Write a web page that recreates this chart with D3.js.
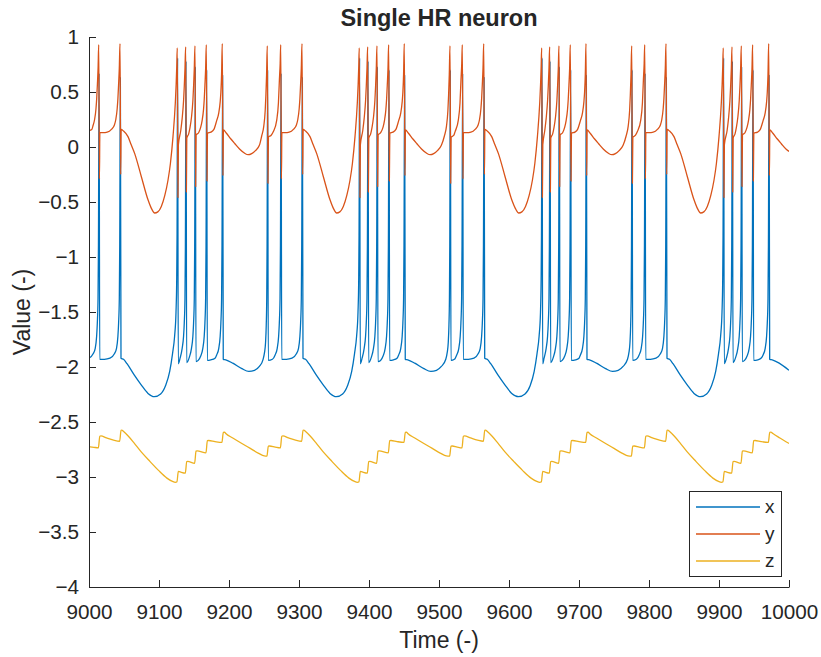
<!DOCTYPE html>
<html>
<head>
<meta charset="utf-8">
<script src="https://cdn.jsdelivr.net/npm/d3@7"></script>
<style>
  html, body { margin: 0; padding: 0; background: #fff; }
  svg text { font-family: "Liberation Sans", Arial, Helvetica, sans-serif; fill: #262626; }
</style>
</head>
<body>
<svg id="chart" width="821" height="657"></svg>
<script>
// ---------------- DATA ----------------
const seriesNames = ["x", "y", "z"];
const xTickValues = [9000, 9100, 9200, 9300, 9400, 9500, 9600, 9700, 9800, 9900, 10000];
const yTickValues = [-4, -3.5, -3, -2.5, -2, -1.5, -1, -0.5, 0, 0.5, 1];

// x variable: [time, value]
const xData = [
[9000,-1.92],[9005.9,-1.88],[9008.9,-1.83],[9010.9,-1.72],[9011.9,-1.6],[9012.9,-1.38],[9013.5,-0.9],[9014.4,0.67],[9015.3,-1.93],
[9022,-1.93],[9030,-1.92],[9036.3,-1.88],[9039.3,-1.83],[9041.3,-1.72],[9042.3,-1.6],[9043.3,-1.38],[9043.9,-0.9],[9044.8,0.63],[9045.7,-1.92],
[9049.3,-1.93],[9054.3,-1.97],[9064.3,-2.07],[9074.3,-2.16],[9084.3,-2.24],[9093.3,-2.27],[9102.3,-2.245],[9109.3,-2.17],[9115.3,-2.04],[9119.3,-1.88],[9122.3,-1.72],[9124.3,-1.5],[9125.3,-1.2],[9125.8,-0.8],[9126.6,0.81],[9127.5,-1.97],
[9130.1,-1.92],[9133.1,-1.83],[9135.1,-1.72],[9136.1,-1.6],[9137.1,-1.38],[9137.7,-0.9],[9138.6,0.78],[9139.5,-1.96],
[9143.4,-1.91],[9146.4,-1.83],[9148.4,-1.72],[9149.4,-1.6],[9150.4,-1.38],[9151,-0.9],[9151.9,0.73],[9152.8,-1.95],
[9156,-1.94],[9159.6,-1.9],[9162.6,-1.83],[9164.6,-1.72],[9165.6,-1.6],[9166.6,-1.38],[9167.2,-0.9],[9168.1,0.70],[9169,-1.94],
[9174,-1.935],[9180,-1.92],[9182.4,-1.89],[9185.4,-1.83],[9187.4,-1.72],[9188.4,-1.6],[9189.4,-1.38],[9190,-0.9],[9190.9,0.65],[9191.8,-1.93],
[9195.4,-1.935],[9205.4,-1.965],[9218.4,-2.015],[9228.4,-2.04],[9236.4,-2.03],[9243.4,-1.995],[9248.7,-1.93],[9250.7,-1.87],[9252.2,-1.78],[9253.2,-1.62],[9253.9,-1.38],[9254.4,-0.9],[9255.2,0.70],[9256.1,-1.94],
[9262,-1.93],[9265.9,-1.89],[9268.9,-1.83],[9270.9,-1.72],[9271.9,-1.6],[9272.9,-1.38],[9273.5,-0.9],[9274.4,0.67],[9275.3,-1.93],
[9282,-1.93],[9290,-1.92],[9296.3,-1.88],[9299.3,-1.83],[9301.3,-1.72],[9302.3,-1.6],[9303.3,-1.38],[9303.9,-0.9],[9304.8,0.63],[9305.7,-1.92],
[9309.3,-1.93],[9314.3,-1.97],[9324.3,-2.07],[9334.3,-2.16],[9344.3,-2.24],[9353.3,-2.27],[9362.3,-2.245],[9369.3,-2.17],[9375.3,-2.04],[9379.3,-1.88],[9382.3,-1.72],[9384.3,-1.5],[9385.3,-1.2],[9385.8,-0.8],[9386.6,0.81],[9387.5,-1.97],
[9390.1,-1.92],[9393.1,-1.83],[9395.1,-1.72],[9396.1,-1.6],[9397.1,-1.38],[9397.7,-0.9],[9398.6,0.78],[9399.5,-1.96],
[9403.4,-1.91],[9406.4,-1.83],[9408.4,-1.72],[9409.4,-1.6],[9410.4,-1.38],[9411,-0.9],[9411.9,0.73],[9412.8,-1.95],
[9416.5,-1.94],[9420.1,-1.9],[9423.1,-1.83],[9425.1,-1.72],[9426.1,-1.6],[9427.1,-1.38],[9427.7,-0.9],[9428.6,0.70],[9429.5,-1.94],
[9435,-1.935],[9440,-1.92],[9442.4,-1.89],[9445.4,-1.83],[9447.4,-1.72],[9448.4,-1.6],[9449.4,-1.38],[9450,-0.9],[9450.9,0.65],[9451.8,-1.93],
[9455.4,-1.935],[9465.4,-1.965],[9478.4,-2.015],[9488.4,-2.04],[9496.4,-2.03],[9503.4,-1.995],[9509.7,-1.93],[9511.7,-1.87],[9513.2,-1.78],[9514.2,-1.62],[9514.9,-1.38],[9515.4,-0.9],[9516.2,0.70],[9517.1,-1.94],
[9522,-1.93],[9525.3,-1.89],[9528.3,-1.83],[9530.3,-1.72],[9531.3,-1.6],[9532.3,-1.38],[9532.9,-0.9],[9533.8,0.67],[9534.7,-1.93],
[9542,-1.93],[9550,-1.92],[9555.9,-1.88],[9558.9,-1.83],[9560.9,-1.72],[9561.9,-1.6],[9562.9,-1.38],[9563.5,-0.9],[9564.4,0.63],[9565.3,-1.92],
[9568.9,-1.93],[9573.9,-1.97],[9583.9,-2.07],[9593.9,-2.16],[9603.9,-2.24],[9613.4,-2.27],[9622.9,-2.245],[9630.2,-2.17],[9636,-2.04],[9640,-1.88],[9643,-1.72],[9645,-1.5],[9645.9,-1.2],[9646.4,-0.8],[9647.2,0.81],[9648.1,-1.97],
[9650.1,-1.92],[9653.1,-1.83],[9655.1,-1.72],[9656.1,-1.6],[9657.1,-1.38],[9657.7,-0.9],[9658.6,0.78],[9659.5,-1.96],
[9663.4,-1.91],[9666.4,-1.83],[9668.4,-1.72],[9669.4,-1.6],[9670.4,-1.38],[9671,-0.9],[9671.9,0.73],[9672.8,-1.95],
[9676,-1.94],[9679.6,-1.9],[9682.6,-1.83],[9684.6,-1.72],[9685.6,-1.6],[9686.6,-1.38],[9687.2,-0.9],[9688.1,0.70],[9689,-1.94],
[9695,-1.935],[9700,-1.92],[9702,-1.89],[9705,-1.83],[9707,-1.72],[9708,-1.6],[9709,-1.38],[9709.6,-0.9],[9710.5,0.65],[9711.4,-1.93],
[9715,-1.935],[9725,-1.965],[9738,-2.015],[9748,-2.04],[9756,-2.03],[9763,-1.995],[9769.3,-1.93],[9771.3,-1.87],[9772.8,-1.78],[9773.8,-1.62],[9774.5,-1.38],[9775,-0.9],[9775.8,0.70],[9776.7,-1.94],
[9782,-1.93],[9785.9,-1.89],[9788.9,-1.83],[9790.9,-1.72],[9791.9,-1.6],[9792.9,-1.38],[9793.5,-0.9],[9794.4,0.67],[9795.3,-1.93],
[9802,-1.93],[9810,-1.92],[9816.3,-1.88],[9819.3,-1.83],[9821.3,-1.72],[9822.3,-1.6],[9823.3,-1.38],[9823.9,-0.9],[9824.8,0.63],[9825.7,-1.92],
[9829.3,-1.93],[9834.3,-1.97],[9844.3,-2.07],[9854.3,-2.16],[9864.3,-2.24],[9873.3,-2.27],[9882.3,-2.245],[9889.3,-2.17],[9895.3,-2.04],[9899.3,-1.88],[9902.3,-1.72],[9904.3,-1.5],[9905.3,-1.2],[9905.8,-0.8],[9906.6,0.81],[9907.5,-1.97],
[9910.6,-1.92],[9913.6,-1.83],[9915.6,-1.72],[9916.6,-1.6],[9917.6,-1.38],[9918.2,-0.9],[9919.1,0.78],[9920,-1.96],
[9923.9,-1.91],[9926.9,-1.83],[9928.9,-1.72],[9929.9,-1.6],[9930.9,-1.38],[9931.5,-0.9],[9932.4,0.73],[9933.3,-1.95],
[9936.5,-1.94],[9940.1,-1.9],[9943.1,-1.83],[9945.1,-1.72],[9946.1,-1.6],[9947.1,-1.38],[9947.7,-0.9],[9948.6,0.70],[9949.5,-1.94],
[9955.5,-1.935],[9960,-1.92],[9963,-1.89],[9966,-1.83],[9968,-1.72],[9969,-1.6],[9970,-1.38],[9970.6,-0.9],[9971.5,0.65],[9972.4,-1.93],
[9976,-1.935],[9986,-1.965],[10000,-2.03]
];

// y variable: [time, value]
const yData = [
[9000,0.15],[9004,0.16],[9006,0.2],[9008,0.25],[9010,0.35],[9011,0.44],[9012,0.57],[9013,0.72],[9013.9,0.93],[9014.9,-0.29],[9015.5,0.13],
[9020,0.13],[9026,0.135],[9032,0.16],[9036.3,0.2],[9038.3,0.25],[9040.3,0.35],[9041.3,0.44],[9042.3,0.57],[9043.3,0.72],[9044.3,0.94],[9045.3,-0.25],[9045.9,0.16],
[9049.3,0.145],[9055.7,0.094],[9060.3,0.02],[9065.3,-0.06],[9074.8,-0.27],[9084.3,-0.48],[9089.3,-0.56],[9093.8,-0.6],[9098.3,-0.59],[9103.3,-0.54],[9108.3,-0.44],[9112.9,-0.30],[9116.3,-0.15],[9120,0.094],[9123.3,0.40],[9124.5,0.57],[9125.3,0.72],[9126.1,0.90],[9127.1,-0.46],[9127.7,0.02],
[9131.1,0.15],[9133.1,0.26],[9135.1,0.42],[9136.1,0.55],[9137.1,0.71],[9138.1,0.91],[9139.1,-0.41],[9139.7,0.08],
[9142.4,0.12],[9144.4,0.18],[9146.4,0.27],[9148.4,0.42],[9149.4,0.55],[9150.4,0.71],[9151.4,0.92],[9152.4,-0.36],[9153,0.11],
[9156.6,0.13],[9159.6,0.18],[9161.6,0.24],[9163.6,0.34],[9164.6,0.43],[9165.6,0.56],[9166.6,0.71],[9167.6,0.93],[9168.6,-0.31],[9169.2,0.125],
[9174,0.135],[9178.4,0.16],[9182.4,0.24],[9185.4,0.31],[9187.4,0.41],[9188.4,0.5],[9189.4,0.66],[9190.4,0.94],[9191.4,-0.26],[9192,0.155],
[9196.4,0.125],[9202.4,0.075],[9208.4,0.03],[9215.4,-0.02],[9222.4,-0.057],[9227.4,-0.07],[9232.4,-0.06],[9237.4,-0.035],[9243.4,0.015],[9246.7,0.1],[9249.7,0.19],[9251.7,0.33],[9252.7,0.47],[9253.7,0.66],[9254.7,0.92],[9255.7,-0.33],[9256.3,0.09],
[9260,0.105],[9263.4,0.14],[9268.2,0.245],[9270.6,0.40],[9272,0.61],[9273.1,0.76],[9273.9,0.93],[9274.9,-0.29],[9275.5,0.13],
[9280,0.13],[9286,0.135],[9292,0.16],[9296.3,0.2],[9298.3,0.25],[9300.3,0.35],[9301.3,0.44],[9302.3,0.57],[9303.3,0.72],[9304.3,0.94],[9305.3,-0.25],[9305.9,0.16],
[9309.3,0.145],[9315.7,0.094],[9320.3,0.02],[9325.3,-0.06],[9334.8,-0.27],[9344.3,-0.48],[9349.3,-0.56],[9353.8,-0.6],[9358.3,-0.59],[9363.3,-0.54],[9368.3,-0.44],[9372.9,-0.30],[9376.3,-0.15],[9380,0.094],[9383.3,0.40],[9384.5,0.57],[9385.3,0.72],[9386.1,0.90],[9387.1,-0.46],[9387.7,0.02],
[9391.1,0.15],[9393.1,0.26],[9395.1,0.42],[9396.1,0.55],[9397.1,0.71],[9398.1,0.91],[9399.1,-0.41],[9399.7,0.08],
[9402.4,0.12],[9404.4,0.18],[9406.4,0.27],[9408.4,0.42],[9409.4,0.55],[9410.4,0.71],[9411.4,0.92],[9412.4,-0.36],[9413,0.11],
[9416.6,0.13],[9420.1,0.18],[9422.1,0.24],[9424.1,0.34],[9425.1,0.43],[9426.1,0.56],[9427.1,0.71],[9428.1,0.93],[9429.1,-0.31],[9429.7,0.125],
[9434,0.135],[9438.4,0.16],[9442.4,0.24],[9445.4,0.31],[9447.4,0.41],[9448.4,0.5],[9449.4,0.66],[9450.4,0.94],[9451.4,-0.26],[9452,0.155],
[9456.4,0.125],[9462.4,0.075],[9468.4,0.03],[9475.4,-0.02],[9482.4,-0.057],[9487.4,-0.07],[9492.4,-0.06],[9497.4,-0.035],[9503.4,0.015],[9507.7,0.1],[9510.7,0.19],[9512.7,0.33],[9513.7,0.47],[9514.7,0.66],[9515.7,0.92],[9516.7,-0.33],[9517.3,0.09],
[9521,0.105],[9523,0.14],[9527.6,0.245],[9530,0.40],[9531.4,0.61],[9532.5,0.76],[9533.3,0.93],[9534.3,-0.29],[9534.9,0.13],
[9539.6,0.13],[9545.6,0.135],[9551.6,0.16],[9555.9,0.2],[9557.9,0.25],[9559.9,0.35],[9560.9,0.44],[9561.9,0.57],[9562.9,0.72],[9563.9,0.94],[9564.9,-0.25],[9565.5,0.16],
[9568.9,0.145],[9575.3,0.094],[9579.9,0.02],[9584.9,-0.06],[9594.4,-0.27],[9603.9,-0.48],[9609.2,-0.56],[9613.9,-0.6],[9618.4,-0.59],[9623.6,-0.54],[9628.8,-0.44],[9633.5,-0.30],[9636.9,-0.15],[9640.6,0.094],[9643.9,0.40],[9645.1,0.57],[9645.9,0.72],[9646.7,0.90],[9647.7,-0.46],[9648.3,0.02],
[9651.1,0.15],[9653.1,0.26],[9655.1,0.42],[9656.1,0.55],[9657.1,0.71],[9658.1,0.91],[9659.1,-0.41],[9659.7,0.08],
[9662.4,0.12],[9664.4,0.18],[9666.4,0.27],[9668.4,0.42],[9669.4,0.55],[9670.4,0.71],[9671.4,0.92],[9672.4,-0.36],[9673,0.11],
[9676.6,0.13],[9679.6,0.18],[9681.6,0.24],[9683.6,0.34],[9684.6,0.43],[9685.6,0.56],[9686.6,0.71],[9687.6,0.93],[9688.6,-0.31],[9689.2,0.125],
[9694,0.135],[9698,0.16],[9702,0.24],[9705,0.31],[9707,0.41],[9708,0.5],[9709,0.66],[9710,0.94],[9711,-0.26],[9711.6,0.155],
[9716,0.125],[9722,0.075],[9728,0.03],[9735,-0.02],[9742,-0.057],[9747,-0.07],[9752,-0.06],[9757,-0.035],[9763,0.015],[9767.3,0.1],[9770.3,0.19],[9772.3,0.33],[9773.3,0.47],[9774.3,0.66],[9775.3,0.92],[9776.3,-0.33],[9776.9,0.09],
[9780.5,0.105],[9783.4,0.14],[9788.2,0.245],[9790.6,0.40],[9792,0.61],[9793.1,0.76],[9793.9,0.93],[9794.9,-0.29],[9795.5,0.13],
[9800,0.13],[9806,0.135],[9812,0.16],[9816.3,0.2],[9818.3,0.25],[9820.3,0.35],[9821.3,0.44],[9822.3,0.57],[9823.3,0.72],[9824.3,0.94],[9825.3,-0.25],[9825.9,0.16],
[9829.3,0.145],[9835.7,0.094],[9840.3,0.02],[9845.3,-0.06],[9854.8,-0.27],[9864.3,-0.48],[9869.3,-0.56],[9873.8,-0.6],[9878.3,-0.59],[9883.3,-0.54],[9888.3,-0.44],[9892.9,-0.30],[9896.3,-0.15],[9900,0.094],[9903.3,0.40],[9904.5,0.57],[9905.3,0.72],[9906.1,0.90],[9907.1,-0.46],[9907.7,0.02],
[9911.6,0.15],[9913.6,0.26],[9915.6,0.42],[9916.6,0.55],[9917.6,0.71],[9918.6,0.91],[9919.6,-0.41],[9920.2,0.08],
[9922.9,0.12],[9924.9,0.18],[9926.9,0.27],[9928.9,0.42],[9929.9,0.55],[9930.9,0.71],[9931.9,0.92],[9932.9,-0.36],[9933.5,0.11],
[9937.1,0.13],[9940.1,0.18],[9942.1,0.24],[9944.1,0.34],[9945.1,0.43],[9946.1,0.56],[9947.1,0.71],[9948.1,0.93],[9949.1,-0.31],[9949.7,0.125],
[9955,0.135],[9959,0.16],[9963,0.24],[9966,0.31],[9968,0.41],[9969,0.5],[9970,0.66],[9971,0.94],[9972,-0.26],[9972.6,0.155],
[9977,0.125],[9983,0.075],[9989,0.03],[9996,-0.02],[10000,-0.04]
];

// z variable: [time, value]
const zData = [
[9000,-2.724],[9007,-2.73],[9013.4,-2.735],[9015.4,-2.63],[9017,-2.627],[9025,-2.645],[9035,-2.665],[9043.8,-2.675],[9045.8,-2.575],[9047,-2.573],
[9048.3,-2.58],[9056.3,-2.63],[9064.3,-2.69],[9074.3,-2.77],[9087.3,-2.86],[9099.3,-2.94],[9111.3,-3.01],[9119.3,-3.04],[9123.3,-3.048],[9125.6,-3.045],[9127.6,-2.95],
[9129,-2.952],[9137.6,-2.965],[9139.6,-2.86],[9141,-2.858],[9150.9,-2.875],[9152.9,-2.765],[9154.5,-2.762],[9167.1,-2.78],[9169.1,-2.67],[9171,-2.668],[9180,-2.678],[9189.9,-2.685],[9191.9,-2.594],[9193.5,-2.592],
[9195.4,-2.605],[9205.4,-2.645],[9218.4,-2.695],[9230.4,-2.74],[9242.4,-2.785],[9250.4,-2.808],[9254.2,-2.81],[9256.2,-2.72],
[9258,-2.718],[9266,-2.728],[9273.4,-2.735],[9275.4,-2.63],[9277,-2.627],[9285,-2.645],[9295,-2.665],[9303.8,-2.675],[9305.8,-2.575],[9307,-2.573],
[9308.3,-2.58],[9316.3,-2.63],[9324.3,-2.69],[9334.3,-2.77],[9347.3,-2.86],[9359.3,-2.94],[9371.3,-3.01],[9379.3,-3.04],[9383.3,-3.048],[9385.6,-3.045],[9387.6,-2.95],
[9389,-2.952],[9397.6,-2.965],[9399.6,-2.86],[9401,-2.858],[9410.9,-2.875],[9412.9,-2.765],[9414.5,-2.762],[9427.6,-2.78],[9429.6,-2.67],[9431.5,-2.668],[9440,-2.678],[9449.9,-2.685],[9451.9,-2.594],[9453.5,-2.592],
[9455.4,-2.605],[9465.4,-2.645],[9478.4,-2.695],[9490.4,-2.74],[9502.4,-2.785],[9510.4,-2.808],[9515.2,-2.81],[9517.2,-2.72],
[9519,-2.718],[9526,-2.728],[9532.8,-2.735],[9534.8,-2.63],[9536.4,-2.627],[9545,-2.645],[9555,-2.665],[9563.4,-2.675],[9565.4,-2.575],[9566.6,-2.573],
[9567.9,-2.58],[9575.9,-2.63],[9583.9,-2.69],[9593.9,-2.77],[9607,-2.86],[9619.3,-2.94],[9631.5,-3.01],[9639.7,-3.04],[9643.8,-3.048],[9646.2,-3.045],[9648.2,-2.95],
[9649.6,-2.952],[9657.6,-2.965],[9659.6,-2.86],[9661,-2.858],[9670.9,-2.875],[9672.9,-2.765],[9674.5,-2.762],[9687.1,-2.78],[9689.1,-2.67],[9691,-2.668],[9700,-2.678],[9709.5,-2.685],[9711.5,-2.594],[9713.1,-2.592],
[9715,-2.605],[9725,-2.645],[9738,-2.695],[9750,-2.74],[9762,-2.785],[9770,-2.808],[9774.8,-2.81],[9776.8,-2.72],
[9779,-2.718],[9786,-2.728],[9793.4,-2.735],[9795.4,-2.63],[9797,-2.627],[9805,-2.645],[9815,-2.665],[9823.8,-2.675],[9825.8,-2.575],[9827,-2.573],
[9828.3,-2.58],[9836.3,-2.63],[9844.3,-2.69],[9854.3,-2.77],[9867.3,-2.86],[9879.3,-2.94],[9891.3,-3.01],[9899.3,-3.04],[9903.3,-3.048],[9905.6,-3.045],[9907.6,-2.95],
[9909,-2.952],[9918.1,-2.965],[9920.1,-2.86],[9921.5,-2.858],[9931.4,-2.875],[9933.4,-2.765],[9935,-2.762],[9947.6,-2.78],[9949.6,-2.67],[9951.5,-2.668],[9960,-2.678],[9970.5,-2.685],[9972.5,-2.594],[9974.1,-2.592],
[9977,-2.605],[9987,-2.645],[10000,-2.695]
];

// ---------------- STYLE / LAYOUT ----------------
const colors = ["#0072BD", "#D95319", "#EDB120"];
const axisColor = "#262626";
const plot = { left: 89, right: 789, top: 37, bottom: 587 };

const svg = d3.select("#chart");

const xScale = d3.scaleLinear().domain([9000, 10000]).range([plot.left, plot.right]);
const yScale = d3.scaleLinear().domain([-4, 1]).range([plot.bottom, plot.top]);

svg.append("defs").append("clipPath").attr("id", "clip")
  .append("rect").attr("x", plot.left).attr("y", plot.top)
  .attr("width", plot.right - plot.left).attr("height", plot.bottom - plot.top);

const line = d3.line()
  .x(d => xScale(d[0]))
  .y(d => yScale(d[1]))
  .curve(d3.curveMonotoneX);

const gLines = svg.append("g").attr("clip-path", "url(#clip)");
[xData, yData, zData].forEach((data, i) => {
  gLines.append("path")
    .datum(data)
    .attr("fill", "none")
    .attr("stroke", colors[i])
    .attr("stroke-width", 1.3)
    .attr("stroke-linejoin", "round")
    .attr("d", line);
});

const fmt = v => String(v).replace("-", "\u2212");

// X axis
const xAxis = d3.axisBottom(xScale)
  .tickValues(xTickValues)
  .tickFormat(fmt)
  .tickSizeInner(-7)
  .tickSizeOuter(0)
  .tickPadding(17);
const gx = svg.append("g").attr("transform", `translate(0,${plot.bottom})`).call(xAxis);
gx.select(".domain").attr("stroke", axisColor).attr("stroke-width", 1);
gx.selectAll(".tick line").attr("stroke", axisColor);
gx.selectAll(".tick text").attr("font-size", 20.7).attr("fill", axisColor)
  .style("font-family", '"Liberation Sans", Arial, sans-serif');

// Y axis
const yAxis = d3.axisLeft(yScale)
  .tickValues(yTickValues)
  .tickFormat(fmt)
  .tickSizeInner(-7)
  .tickSizeOuter(0)
  .tickPadding(10);
const gy = svg.append("g").attr("transform", `translate(${plot.left},0)`).call(yAxis);
gy.select(".domain").attr("stroke", axisColor).attr("stroke-width", 1);
gy.selectAll(".tick line").attr("stroke", axisColor);
gy.selectAll(".tick text").attr("font-size", 20.7).attr("fill", axisColor)
  .style("font-family", '"Liberation Sans", Arial, sans-serif');

// Title and labels
svg.append("text")
  .attr("x", (plot.left + plot.right) / 2).attr("y", 26)
  .attr("text-anchor", "middle")
  .attr("font-size", 23.5).attr("font-weight", "bold")
  .text("Single HR neuron");

svg.append("text")
  .attr("x", (plot.left + plot.right) / 2).attr("y", 648)
  .attr("text-anchor", "middle")
  .attr("font-size", 23)
  .text("Time (-)");

svg.append("text")
  .attr("transform", `translate(30,${(plot.top + plot.bottom) / 2}) rotate(-90)`)
  .attr("text-anchor", "middle")
  .attr("font-size", 23)
  .text("Value (-)");

// Legend
const lg = svg.append("g");
lg.append("rect")
  .attr("x", 689.5).attr("y", 491.5).attr("width", 92).attr("height", 85)
  .attr("fill", "#fff").attr("stroke", axisColor).attr("stroke-width", 1);
seriesNames.forEach((name, i) => {
  const yy = 507 + i * 27;
  lg.append("line")
    .attr("x1", 696).attr("x2", 760).attr("y1", yy).attr("y2", yy)
    .attr("stroke", colors[i]).attr("stroke-width", 1.3);
  lg.append("text")
    .attr("x", 765).attr("y", yy + 6)
    .attr("font-size", 19)
    .text(name);
});
</script>
</body>
</html>
